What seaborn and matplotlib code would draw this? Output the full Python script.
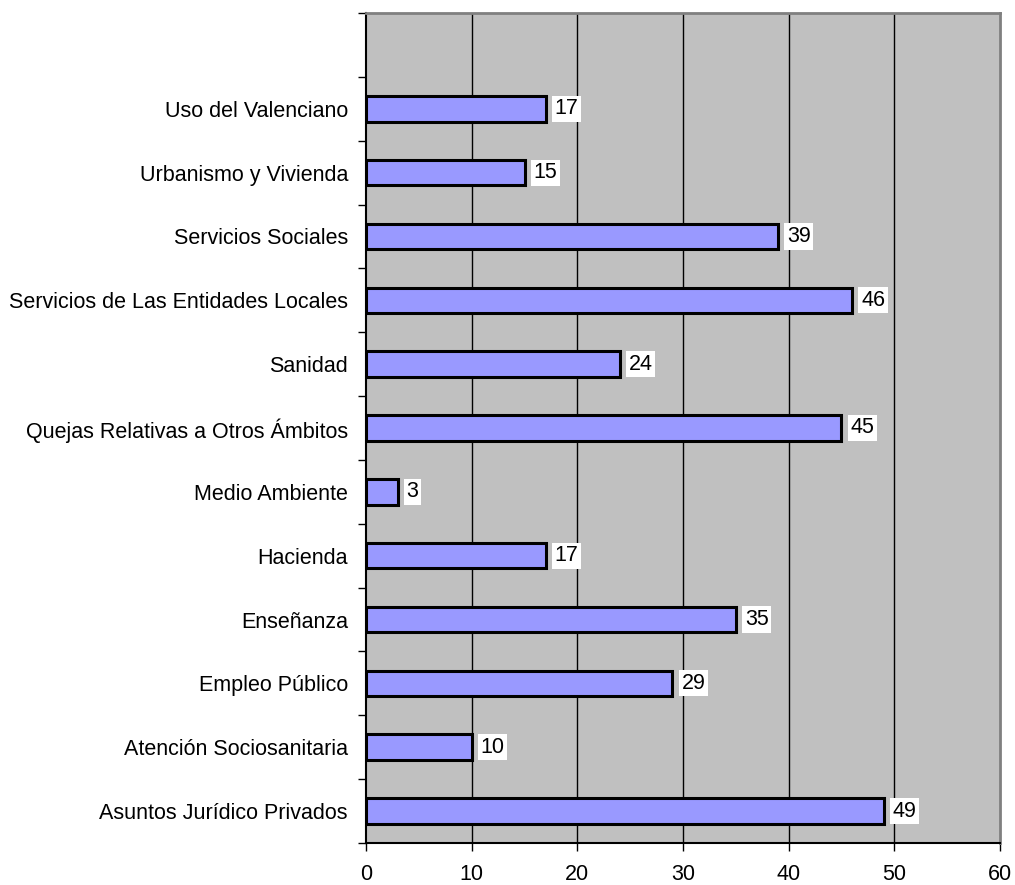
import matplotlib
matplotlib.use("Agg")
import matplotlib.pyplot as plt
import seaborn as sns
import pandas as pd
import numpy as np

categories = [
    "Uso del Valenciano",
    "Urbanismo y Vivienda",
    "Servicios Sociales",
    "Servicios de Las Entidades Locales",
    "Sanidad",
    "Quejas Relativas a Otros Ámbitos",
    "Medio Ambiente",
    "Hacienda",
    "Enseñanza",
    "Empleo Público",
    "Atención Sociosanitaria",
    "Asuntos Jurídico Privados",
]
values = [17, 15, 39, 46, 24, 45, 3, 17, 35, 29, 10, 49]
x_ticks = [0, 10, 20, 30, 40, 50, 60]

sns.set_theme(style="white")
plt.rcParams["font.family"] = ["Liberation Sans", "DejaVu Sans"]
plt.rcParams["text.color"] = "black"
plt.rcParams["xtick.color"] = "black"
plt.rcParams["ytick.color"] = "black"

df = pd.DataFrame({"categoria": categories, "valor": values})

fig = plt.figure(figsize=(10.15, 8.85), dpi=100)
ax = fig.add_axes([366 / 1015, 42 / 885, 634 / 1015, 830 / 885])
ax.set_facecolor("#C0C0C0")

# vertical gridlines behind the bars
for xv in x_ticks[1:-1]:
    ax.axvline(xv, color="black", lw=1.0, zorder=0)

sns.barplot(data=df, x="valor", y="categoria", order=categories, orient="h",
            color="#9999FF", saturation=1, width=0.4, edgecolor="black",
            linewidth=2.2, ax=ax, zorder=2)

ax.set_xlim(0, 60)
ax.set_ylim(len(categories) - 0.5, -1.5)
ax.set_xlabel("")
ax.set_ylabel("")

# value labels beside each bar
for i, v in enumerate(values):
    ax.text(v + 0.85, i, str(v), va="center", ha="left", fontsize=15.5,
            color="black", zorder=3,
            bbox=dict(boxstyle="square,pad=0.12", fc="white", ec="none"))

# axes frame
for side in ["top", "right"]:
    ax.spines[side].set_color("#808080")
    ax.spines[side].set_linewidth(2.0)
for side in ["left", "bottom"]:
    ax.spines[side].set_color("black")
    ax.spines[side].set_linewidth(1.5)

ax.set_xticks(x_ticks)
ax.set_xticklabels([str(t) for t in x_ticks], fontsize=15.5)
ax.tick_params(axis="x", direction="out", length=6, width=1, color="black",
               pad=9, bottom=True, labelcolor="black")

# category labels centred on bars, tick marks on slot boundaries
ax.set_yticks(range(len(categories)))
ax.set_yticklabels(categories, fontsize=15.5)
ax.tick_params(axis="y", which="major", length=0, pad=13, labelcolor="black")
ax.set_yticks(np.arange(-1.5, len(categories), 1.0), minor=True)
ax.tick_params(axis="y", which="minor", direction="out", length=6, width=1,
               color="black", left=True)

fig.savefig("out.png", dpi=100)
